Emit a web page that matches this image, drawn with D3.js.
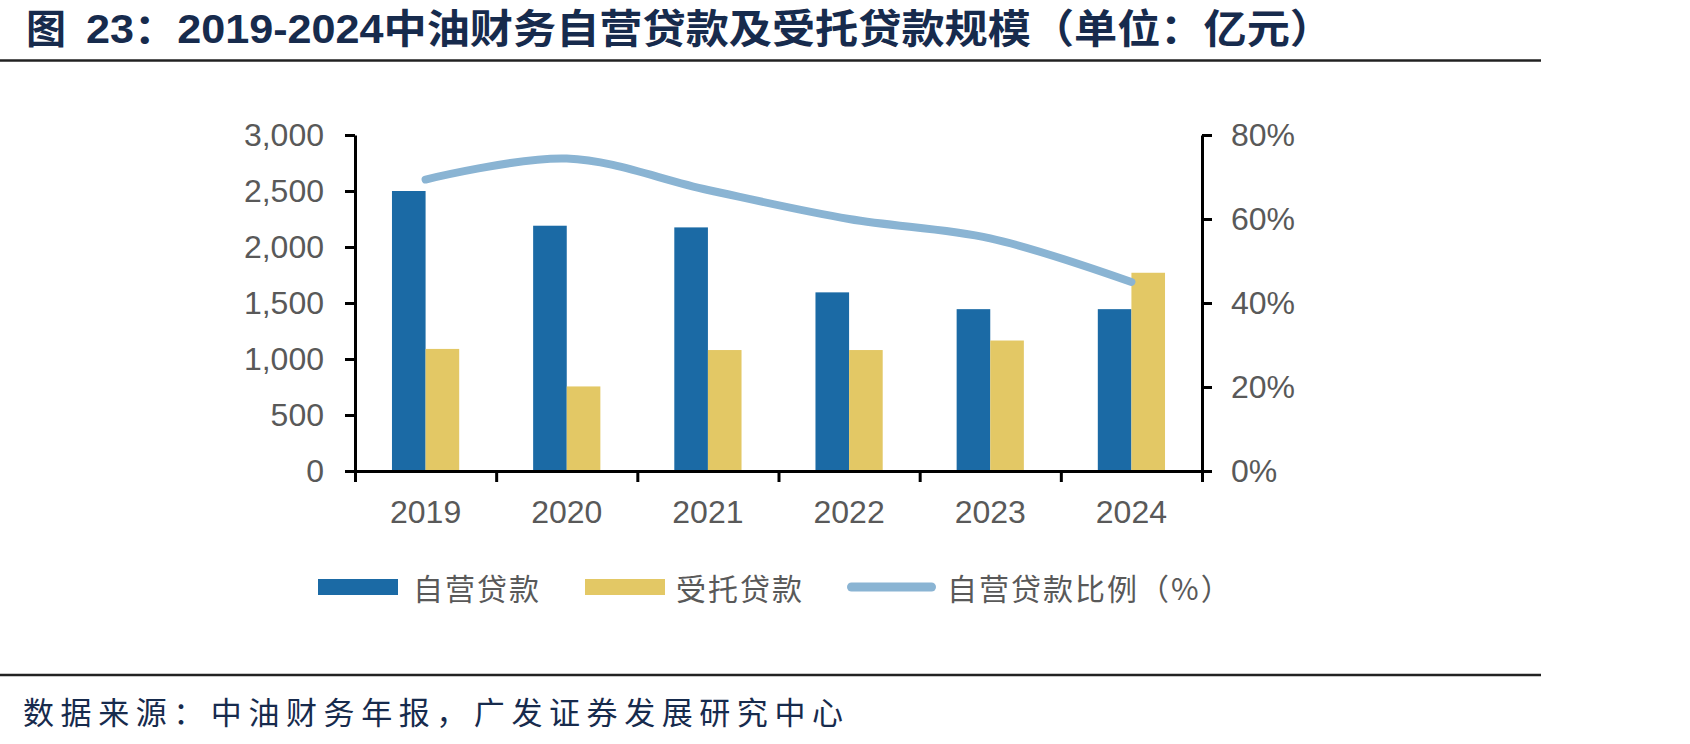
<!DOCTYPE html>
<html>
<head>
<meta charset="utf-8">
<script src="https://cdn.jsdelivr.net/npm/d3@7"></script>
<style>
  html, body { margin: 0; padding: 0; background: #fff; }
  svg { display: block; }
</style>
</head>
<body>
<div id="chart"></div>
<script>
// Données (亿元 et %)
const years = ['2019', '2020', '2021', '2022', '2023', '2024'];
const ownLoans = [2500, 2190, 2175, 1595, 1445, 1445];        // 自营贷款
const entrustedLoans = [1090, 755, 1080, 1080, 1165, 1770];   // 受托贷款
const ownShare = [69.4, 74.4, 66.9, 60.0, 55.4, 45.0];        // 自营贷款比例（%）
const leftTicks = [0, 500, 1000, 1500, 2000, 2500, 3000];
const rightTicks = [0, 20, 40, 60, 80];
const seriesNames = ['自营贷款', '受托贷款', '自营贷款比例（%）'];

const config = {
  width: 1690,
  height: 744,
  plot: { left: 355, right: 1202, top: 135, bottom: 471 },
  colors: { own: '#1B6AA5', entrusted: '#E3C865', line: '#8AB4D3' },
  labelColor: '#595959',
  navy: '#172B4D',
  latin: '"Liberation Sans", Arial, "Noto Sans CJK SC", sans-serif',
  cjk: '"Noto Sans CJK SC", "Liberation Sans", sans-serif'
};

const svg = d3.select('#chart').append('svg')
  .attr('width', config.width)
  .attr('height', config.height);

// Titre et filets
const title = svg.append('text')
  .attr('y', 43)
  .attr('font-family', config.latin)
  .attr('font-weight', 'bold')
  .attr('font-size', 40)
  .attr('fill', config.navy);
title.append('tspan').attr('x', 26).text('图');
title.append('tspan').attr('x', 86)
  .attr('textLength', 1247)
  .attr('lengthAdjust', 'spacingAndGlyphs')
  .text('23：2019-2024中油财务自营贷款及受托贷款规模（单位：亿元）');

svg.append('line')
  .attr('x1', 0).attr('x2', 1541)
  .attr('y1', 60.5).attr('y2', 60.5)
  .attr('stroke', '#222').attr('stroke-width', 2.5);

svg.append('line')
  .attr('x1', 0).attr('x2', 1541)
  .attr('y1', 675).attr('y2', 675)
  .attr('stroke', '#222').attr('stroke-width', 2.5);

svg.append('text')
  .attr('x', 23)
  .attr('y', 710)
  .attr('dominant-baseline', 'central')
  .attr('font-family', config.cjk)
  .attr('font-size', 31)
  .attr('fill', config.navy)
  .attr('textLength', 820)
  .attr('lengthAdjust', 'spacing')
  .text('数据来源：中油财务年报，广发证券发展研究中心');

// Échelles
const p = config.plot;
const xScale = d3.scaleBand().domain(years).range([p.left, p.right]).padding(0);
const xEdges = d3.scaleLinear().domain([0, years.length]).range([p.left, p.right]);
const xSub = d3.scaleBand().domain(['own', 'entrusted'])
  .range([0, xScale.bandwidth()]).paddingInner(0).paddingOuter(1.1);
const yLeft = d3.scaleLinear().domain([0, 3000]).range([p.bottom, p.top]);
const yRight = d3.scaleLinear().domain([0, 80]).range([p.bottom, p.top]);

const g = svg.append('g');

// Barres
const barData = [];
years.forEach((y, i) => {
  barData.push({ year: y, key: 'own', value: ownLoans[i] });
  barData.push({ year: y, key: 'entrusted', value: entrustedLoans[i] });
});

g.append('g').attr('class', 'bars')
  .selectAll('rect')
  .data(barData)
  .enter()
  .append('rect')
  .attr('x', d => xScale(d.year) + xSub(d.key))
  .attr('y', d => yLeft(d.value))
  .attr('width', xSub.bandwidth())
  .attr('height', d => yLeft(0) - yLeft(d.value))
  .attr('fill', d => config.colors[d.key]);

// Axes
function styleAxis(sel) {
  sel.selectAll('path.domain').attr('stroke', '#000').attr('stroke-width', 3);
  sel.selectAll('.tick line').attr('stroke', '#000').attr('stroke-width', 3);
  sel.selectAll('.tick text')
    .attr('fill', config.labelColor)
    .attr('font-family', config.latin)
    .attr('font-size', 32);
}

g.append('g')
  .attr('transform', `translate(${p.left},0)`)
  .call(d3.axisLeft(yLeft).tickValues(leftTicks).tickFormat(d3.format(','))
    .tickSize(10).tickSizeOuter(0).tickPadding(21))
  .call(styleAxis);

g.append('g')
  .attr('transform', `translate(${p.right},0)`)
  .call(d3.axisRight(yRight).tickValues(rightTicks).tickFormat(d => d + '%')
    .tickSize(10).tickSizeOuter(0).tickPadding(19))
  .call(styleAxis);

// Graduations aux bords des catégories
g.append('g')
  .attr('transform', `translate(0,${p.bottom})`)
  .call(d3.axisBottom(xEdges).tickValues(d3.range(years.length + 1))
    .tickFormat('').tickSize(11).tickSizeOuter(0))
  .call(styleAxis);

// Libellés des années
g.append('g')
  .attr('transform', `translate(0,${p.bottom})`)
  .call(d3.axisBottom(xScale).tickSize(0).tickPadding(29))
  .call(styleAxis)
  .call(a => a.select('path.domain').remove());

// Courbe du ratio
const line = d3.line()
  .x((d, i) => xScale(years[i]) + xScale.bandwidth() / 2)
  .y(d => yRight(d))
  .curve(d3.curveCatmullRom.alpha(0.5));

g.append('path')
  .datum(ownShare)
  .attr('d', line)
  .attr('fill', 'none')
  .attr('stroke', config.colors.line)
  .attr('stroke-width', 8)
  .attr('stroke-linecap', 'round')
  .attr('stroke-linejoin', 'round');

// Légende
const legend = svg.append('g').attr('class', 'legend');
const legendY = 587;
const legendItems = [
  { name: seriesNames[0], type: 'rect', color: config.colors.own, x: 318, tx: 413 },
  { name: seriesNames[1], type: 'rect', color: config.colors.entrusted, x: 585, tx: 676 },
  { name: seriesNames[2], type: 'line', color: config.colors.line, x: 847, tx: 947 }
];

legendItems.forEach(item => {
  if (item.type === 'rect') {
    legend.append('rect')
      .attr('x', item.x).attr('y', legendY - 8)
      .attr('width', 80).attr('height', 16)
      .attr('fill', item.color);
  } else {
    legend.append('line')
      .attr('x1', item.x + 4.5).attr('x2', item.x + 84.5)
      .attr('y1', legendY).attr('y2', legendY)
      .attr('stroke', item.color).attr('stroke-width', 9)
      .attr('stroke-linecap', 'round');
  }
  legend.append('text')
    .attr('x', item.tx)
    .attr('y', legendY)
    .attr('dominant-baseline', 'central')
    .attr('font-family', config.cjk)
    .attr('font-size', 30)
    .attr('letter-spacing', 2)
    .attr('fill', config.labelColor)
    .text(item.name);
});
</script>
</body>
</html>
